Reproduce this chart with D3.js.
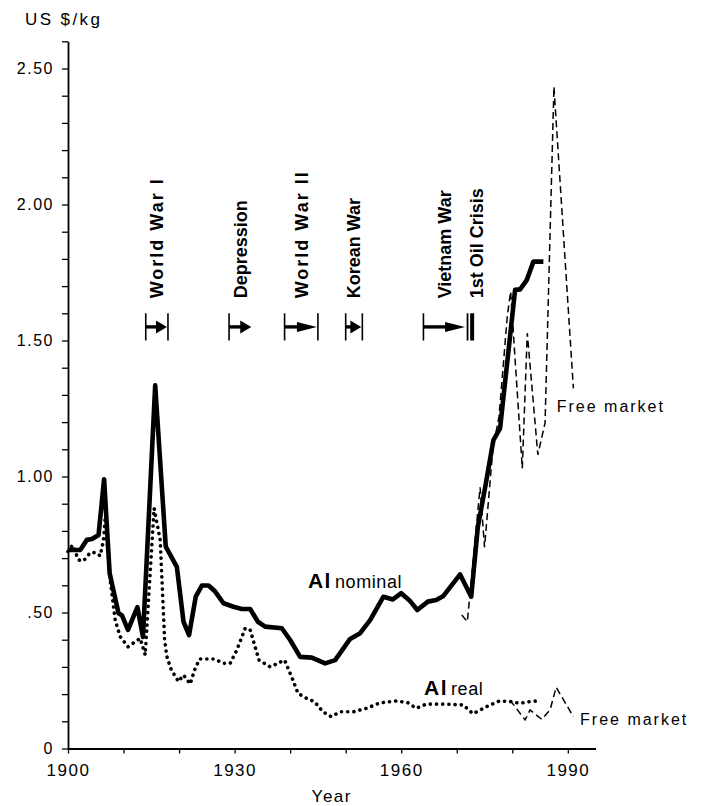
<!DOCTYPE html>
<html><head><meta charset="utf-8">
<script src="https://cdn.jsdelivr.net/npm/d3@7/dist/d3.min.js"></script>
<style>
body{margin:0;background:#fff}
svg{display:block}
text{font-family:"Liberation Sans",Arial,Helvetica,sans-serif;fill:#000}
</style>
</head><body>
<script>
// ---------- data ----------
const nominalYears = [1900,1902.2,1903.4,1904.3,1905.5,1906.5,1907.5,1909.1,1909.7,1910.8,1912.5,1913.5,1915.7,1917.6,1919.6,1920.8,1921.8,1923,1924.1,1925.3,1926.5,1928,1929.8,1931.3,1932.8,1934.2,1935.5,1938.5,1940,1941.8,1943.9,1946.3,1948.1,1950.8,1952.6,1954.4,1956.8,1958.5,1960,1961.6,1962.9,1964.8,1966.3,1967.6,1970.6,1972.6,1973.8,1975.2,1976.6,1977.8,1980.5,1981.4,1982.6,1983.8,1985.6];
const nominalValues = [0.73,0.73,0.767,0.77,0.785,0.99,0.644,0.497,0.49,0.436,0.52,0.41,1.335,0.742,0.668,0.466,0.417,0.558,0.599,0.599,0.577,0.534,0.521,0.513,0.513,0.466,0.448,0.442,0.399,0.337,0.334,0.313,0.325,0.403,0.424,0.472,0.558,0.548,0.571,0.542,0.509,0.54,0.546,0.561,0.64,0.558,0.815,0.97,1.134,1.177,1.686,1.688,1.722,1.79,1.79];

const realYears = [1900,1900.8,1901.9,1902.8,1904,1905,1905.8,1906.4,1906.7,1907.6,1908.5,1909.4,1910.8,1911.7,1913,1913.9,1915.5,1916.6,1917.4,1917.8,1918.6,1919.9,1920.8,1922,1922.8,1923.7,1926.4,1928,1929.2,1930.4,1931.9,1932.8,1934.4,1936.4,1939,1940.5,1941.4,1942.9,1944.4,1945.9,1947.4,1949,1951.4,1953.8,1956.2,1959.2,1961.2,1962.7,1964.5,1968.1,1971.2,1972.9,1975.4,1977.7,1979.9,1981.3,1983.1,1985];
const realValues = [0.724,0.748,0.693,0.69,0.72,0.72,0.708,0.767,0.85,0.62,0.472,0.411,0.374,0.387,0.405,0.344,0.883,0.767,0.40,0.338,0.289,0.246,0.27,0.237,0.289,0.329,0.329,0.313,0.313,0.362,0.442,0.436,0.325,0.30,0.325,0.252,0.203,0.185,0.172,0.135,0.117,0.135,0.135,0.148,0.168,0.175,0.168,0.148,0.163,0.163,0.16,0.128,0.154,0.175,0.172,0.166,0.172,0.176];

const freeNominalYears = [1970.9,1971.9,1974.2,1975.0,1976.5,1977.6,1978.1,1979.1,1979.7,1981.8,1982.7,1984.6,1985.9,1987.5,1991];
const freeNominalValues = [0.491,0.466,0.96,0.74,1.10,1.22,1.34,1.59,1.68,1.03,1.527,1.08,1.197,2.433,1.324];

const freeRealYears = [1979.6,1982.3,1983.2,1985.3,1986.8,1987.9,1991];
const freeRealValues = [0.178,0.105,0.142,0.107,0.142,0.225,0.117];

const eventNames = ["World War I","Depression","World War II","Korean War","Vietnam War","1st Oil Crisis"];
const eventStart = [1914,1929,1939,1950,1964,1972.5];
const eventEnd   = [1918,1933,1945,1953,1971.5,1972.5];
const eventKind  = ["bar","open","bar","bar","open","crisis"];

const yTickValues = d3.range(0,26.5,1).map(d=>d/10);
const yLabelValues = [0,0.5,1,1.5,2,2.5];
const yLabelText = ["0",".50","1.00","1.50","2.00","2.50"];
const xTickValues = d3.range(1900,1991,10);
const xLabelValues = [1900,1930,1960,1990];

// ---------- setup ----------
const W=708,H=806;
const svg=d3.select("body").append("svg").attr("width",W).attr("height",H);
const x=d3.scaleLinear().domain([1900,1995]).range([68,595.6]);
const y=d3.scaleLinear().domain([0,2.6]).range([748.5,41.3]);

// axes
const yAxis=d3.axisLeft(y).tickValues(yTickValues).tickSize(6).tickSizeOuter(0).tickPadding(8)
  .tickFormat(d=>{const i=yLabelValues.findIndex(v=>Math.abs(v-d)<1e-6);return i>=0?yLabelText[i]:"";});
const gy=svg.append("g").attr("transform","translate(68,0)").call(yAxis);
gy.select(".domain").attr("stroke","#000").attr("stroke-width",1.8);
gy.selectAll(".tick line").attr("stroke","#000").attr("stroke-width",1.3);
gy.selectAll("text").attr("font-size",16).attr("letter-spacing","1.5px").attr("font-family","Liberation Sans, Arial, sans-serif").attr("fill","#000");

const xAxis=d3.axisBottom(x).tickValues(xTickValues).tickSize(5).tickSizeOuter(0).tickPadding(10.5)
  .tickFormat(d=>xLabelValues.includes(d)?String(d):"");
const gx=svg.append("g").attr("transform","translate(0,748.5)").call(xAxis);
gx.select(".domain").attr("stroke","#000").attr("stroke-width",1.8);
gx.selectAll(".tick line").attr("stroke","#000").attr("stroke-width",1.3);
gx.selectAll("text").attr("font-size",17).attr("letter-spacing","1.5px").attr("font-family","Liberation Sans, Arial, sans-serif").attr("fill","#000");

svg.append("text").attr("x",25).attr("y",25).attr("font-size",17).attr("letter-spacing","2.4px").text("US $/kg");
svg.append("text").attr("x",(x(1900)+x(1995))/2).attr("y",802).attr("text-anchor","middle").attr("font-size",17).attr("letter-spacing","1.5px").text("Year");

// lines
const line=d3.line().x(d=>x(d[0])).y(d=>y(d[1]));
const zip=(a,b)=>a.map((v,i)=>[v,b[i]]);

svg.append("path").datum(zip(freeNominalYears,freeNominalValues)).attr("d",line)
  .attr("fill","none").attr("stroke","#000").attr("stroke-width",1.5).attr("stroke-dasharray","7,4");
svg.append("path").datum(zip(freeRealYears,freeRealValues)).attr("d",line)
  .attr("fill","none").attr("stroke","#000").attr("stroke-width",1.5).attr("stroke-dasharray","7,4");
svg.append("path").datum(zip(realYears,realValues)).attr("d",line)
  .attr("fill","none").attr("stroke","#000").attr("stroke-width",3.6).attr("stroke-linecap","round").attr("stroke-dasharray","0.1,6.1");
svg.append("path").datum(zip(nominalYears,nominalValues)).attr("d",line)
  .attr("fill","none").attr("stroke","#000").attr("stroke-width",4.6).attr("stroke-linejoin","round");

// series labels
function seriesLabel(xv,yv,big,small){
  const t=svg.append("text").attr("x",x(xv)).attr("y",y(yv));
  t.append("tspan").attr("font-size",21).attr("font-weight","bold").attr("letter-spacing","1.5px").text(big);
  t.append("tspan").attr("font-size",18).attr("dx",3).attr("letter-spacing","0.6px").text(small);
}
seriesLabel(1943.2,0.59,"Al","nominal");
seriesLabel(1964.1,0.197,"Al","real");
svg.append("text").attr("x",x(1988)).attr("y",y(1.236)).attr("font-size",16).attr("letter-spacing","2px").text("Free market");
svg.append("text").attr("x",x(1992.2)).attr("y",y(0.087)).attr("font-size",16).attr("letter-spacing","2px").text("Free market");

// events
const bandLo=1.50,bandHi=1.60,bandMid=1.55,labelBase=1.655;
eventNames.forEach((name,i)=>{
  const g=svg.append("g");
  const x0=x(eventStart[i]),x1=x(eventEnd[i]);
  const kind=eventKind[i];
  let cx=(x0+x1)/2;
  if(kind==="crisis"){
    g.append("rect").attr("x",x0-4).attr("y",y(bandHi)).attr("width",1.8).attr("height",y(bandLo)-y(bandHi));
    g.append("rect").attr("x",x0-0.5).attr("y",y(bandHi)).attr("width",4).attr("height",y(bandLo)-y(bandHi));
    cx=x0+6;
  } else {
    g.append("line").attr("x1",x0).attr("x2",x0).attr("y1",y(bandHi)).attr("y2",y(bandLo)).attr("stroke","#000").attr("stroke-width",1.6);
    if(kind==="bar") g.append("line").attr("x1",x1).attr("x2",x1).attr("y1",y(bandHi)).attr("y2",y(bandLo)).attr("stroke","#000").attr("stroke-width",1.6);
    const long=(x1-x0)>30;
    const hl=long?20:11, hh=long?5:6.5;
    const tip=kind==="bar"?x1-1:x1;
    const ym=y(bandMid);
    g.append("line").attr("x1",x0).attr("x2",tip-hl+1).attr("y1",ym).attr("y2",ym).attr("stroke","#000").attr("stroke-width",3.4);
    g.append("path").attr("d",`M${tip-hl},${ym-hh}L${tip},${ym}L${tip-hl},${ym+hh}Z`).attr("fill","#000");
  }
  const capH=18*0.716;
  const ls=name.startsWith("World")?"2px":"0px";
  g.append("text").attr("transform",`translate(${cx+capH/2},${y(labelBase)}) rotate(-90)`)
    .attr("font-size",18).attr("font-weight","bold").attr("letter-spacing",ls).text(name);
});
</script>
</body></html>
